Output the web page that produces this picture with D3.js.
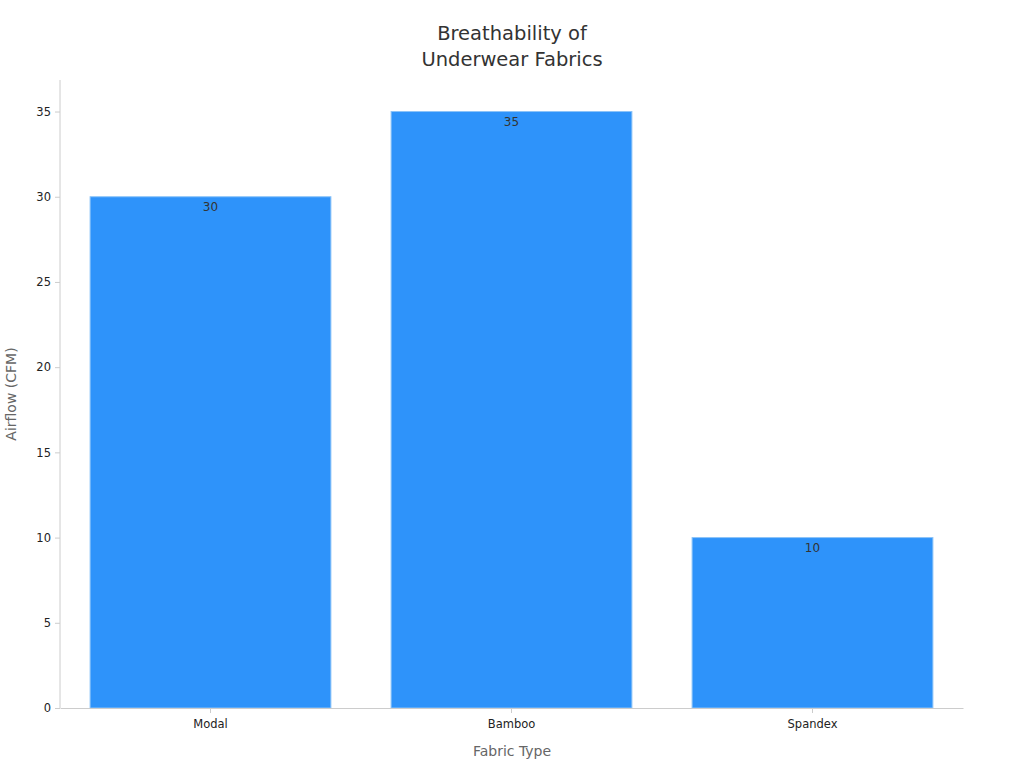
<!DOCTYPE html>
<html><head><meta charset="utf-8">
<script src="https://cdn.jsdelivr.net/npm/d3@7"></script>
<style>body{margin:0;background:#fff;font-family:"DejaVu Sans",sans-serif;}</style>
</head><body><svg id="c" width="1024" height="768"></svg>
<script>
const categories = ["Modal", "Bamboo", "Spandex"];
const airflow = [30, 35, 10];
const yTicks = [0, 5, 10, 15, 20, 25, 30, 35];
const titleLines = ["Breathability of", "Underwear Fabrics"];

const svg = d3.select("#c");
const margin = {left: 60, right: 61, top: 80, bottom: 60};
const width = 1024, height = 768;

const x = d3.scaleBand().domain(categories)
  .range([margin.left, width - margin.right])
  .paddingInner(0.2).paddingOuter(0.1);
const y = d3.scaleLinear().domain([0, 36.85])
  .range([height - margin.bottom, margin.top]);

svg.append("g").selectAll("text").data(titleLines).join("text")
  .attr("x", 512).attr("y", 40 ).attr("dy", (d, i) => i * 26)
  .attr("text-anchor", "middle").attr("font-size", 19.5).attr("fill", "#333")
  .text(d => d);

svg.append("g").selectAll("rect").data(airflow).join("rect")
  .attr("x", (d, i) => x(categories[i]))
  .attr("y", d => y(d))
  .attr("width", x.bandwidth())
  .attr("height", d => y(0) - y(d))
  .attr("fill", "#2e93fa").attr("stroke", "#8cc3f8").attr("stroke-width", 1);

svg.append("g").selectAll("text").data(airflow).join("text")
  .attr("x", (d, i) => x(categories[i]) + x.bandwidth() / 2)
  .attr("y", d => y(d) + 14)
  .attr("text-anchor", "middle").attr("font-size", 12).attr("fill", "#333")
  .text(d => d);

const yAxis = svg.append("g").attr("transform", `translate(${margin.left},0)`)
  .call(d3.axisLeft(y).tickValues(yTicks).tickSize(5).tickPadding(4));
const xAxis = svg.append("g").attr("transform", `translate(0,${y(0)})`)
  .call(d3.axisBottom(x).tickSize(5).tickPadding(7).tickSizeOuter(0));
[yAxis, xAxis].forEach(a => {
  a.selectAll("path,line").attr("stroke", "#ccc");
  a.selectAll("text").attr("font-size", 11.5).attr("fill", "#222")
    .attr("font-family", "DejaVu Sans, sans-serif");
});
yAxis.select(".domain").attr("d", `M0,${y(0)}V${margin.top}`);

svg.append("text").attr("x", 512).attr("y", 756).attr("text-anchor", "middle")
  .attr("font-size", 14).attr("fill", "#666").text("Fabric Type");
svg.append("text").attr("transform", "translate(16,394) rotate(-90)")
  .attr("text-anchor", "middle").attr("font-size", 14).attr("fill", "#666")
  .text("Airflow (CFM)");
</script></body></html>
